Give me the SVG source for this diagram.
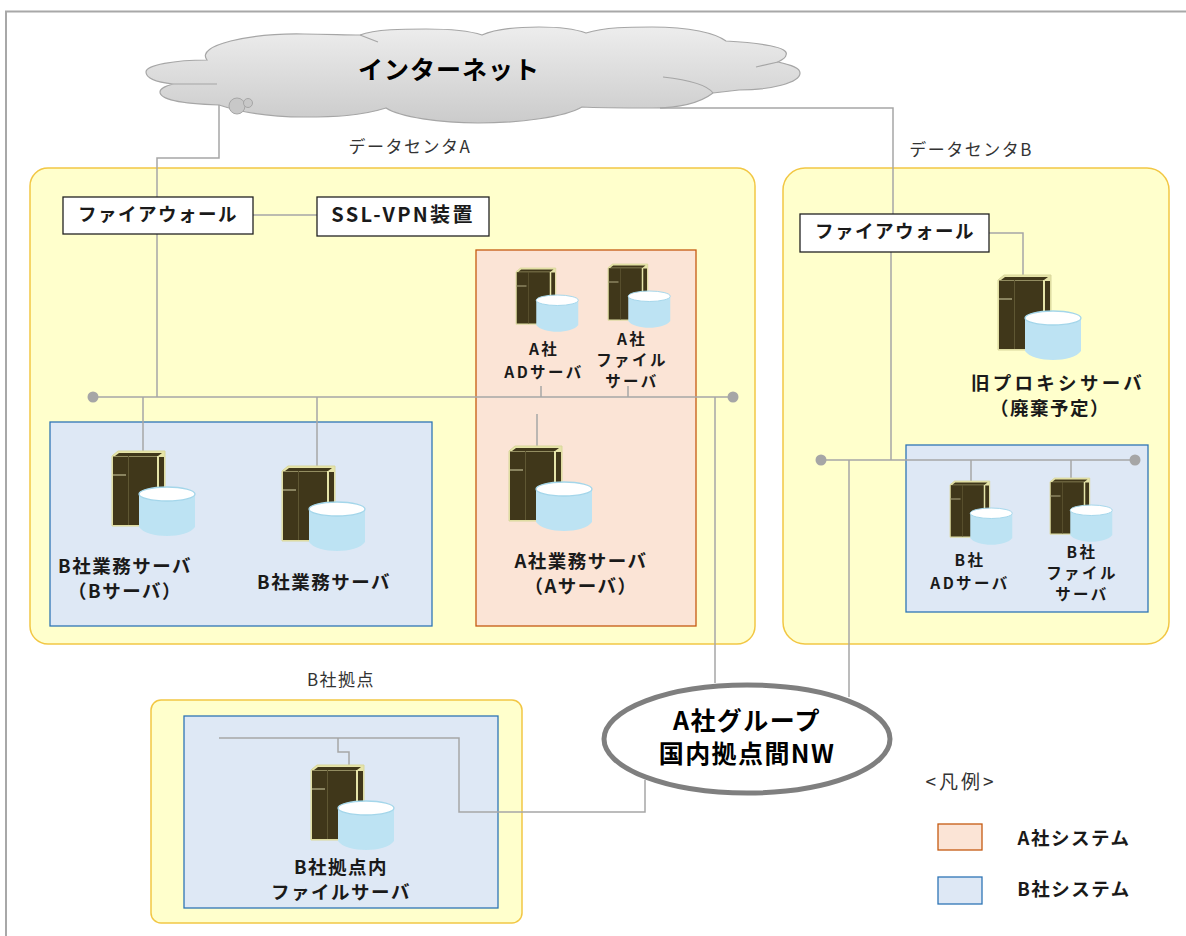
<svg xmlns="http://www.w3.org/2000/svg" width="1186" height="936" viewBox="0 0 1186 936">
<style>
text{font-family:"Noto Sans CJK JP","Noto Sans",sans-serif;fill:#000;text-anchor:middle}
.b{font-weight:700;font-size:18.500px;letter-spacing:1.500px;fill:#1a1a1a}
.s{font-weight:700;font-size:15.500px;letter-spacing:2.400px;fill:#1a1a1a}
.n{font-size:17px;letter-spacing:1.500px;fill:#333}
.t{font-size:25px;font-weight:700;letter-spacing:1.400px}
.dc{fill:#ffffcc;stroke:#f2c744;stroke-width:1.5}
.blue{fill:#dee8f5;stroke:#2e75b6;stroke-width:1.3}
.org{fill:#fbe4d6;stroke:#c55a11;stroke-width:1.3}
.fw{fill:#fff;stroke:#222;stroke-width:1.3}
.ln{fill:none;stroke:#a6a6a6;stroke-width:1.5}
.dot{fill:#a6a6a6}
</style>
<defs>
<linearGradient id="cg" x1="0" y1="0" x2="0" y2="1"><stop offset="0" stop-color="#ededed"/><stop offset="1" stop-color="#cbcbcb"/></linearGradient>
<g id="srv">
<path d="M0 5 L6 0 H53 V68 L47 75 H0Z" fill="#e6e4a8" stroke="#d9d79c"/>
<path d="M3 5 L7 2 H50 L46 5Z" fill="#40371a"/>
<rect x="1" y="5.500" width="44" height="68.500" fill="#40371a"/>
<rect x="47" y="6" width="5" height="60" fill="#40371a"/>
<rect x="16" y="5" width="1" height="69" fill="#5f5733"/>
<rect x="1" y="23" width="13" height="2" fill="#8a8460"/>
<path d="M27 43 V76 C35 88 75 88 83 76 V43Z" fill="#bde3f3"/>
<ellipse cx="55" cy="43" rx="28" ry="7" fill="#fff" stroke="#a4d6ea" stroke-width="1.3"/>
</g>
</defs>
<path d="M6 936V11.500H1186" fill="none" stroke="#a8a8a8" stroke-width="2"/>
<g id="cloud">
<path d="M146 72C146 65 175 60 207 60C195 45 250 33 304 34C325 34 345 35 360 35C375 29 405 29 426 29C450 29 470 31 482 35C497 28 520 27 539 27C560 27 575 29 586 33C605 27 630 27 652 27C690 27 715 33 726 41C760 43 790 47 786 55C786 58 782 60 778 62C792 65 800 68 800 73C800 83 770 90 739 90C730 91 722 92 713 93C700 103 680 108 652 108C630 108 600 108 582 107C565 117 520 123 478 123C440 123 400 117 386 108C360 116 335 117 304 117C270 117 240 112 219 105C185 104 160 100 160 92C160 88 166 86 173 84C155 82 146 78 146 72Z" fill="url(#cg)" stroke="#a6a6a6" stroke-width="1.200"/>
<path d="M360 35L378 42M173 84H217M663 77C690 80 708 86 713 93M756 67L778 62" fill="none" stroke="#a6a6a6" stroke-width="1.200"/>
<circle cx="237" cy="106" r="8" fill="#c8c8c8" stroke="#a6a6a6"/><circle cx="248" cy="103" r="4.500" fill="#c8c8c8" stroke="#a6a6a6"/>
<text class="t" x="449" y="79" style="letter-spacing:1px">インターネット</text>
</g>
<g id="dc-a"><rect class="dc" x="30" y="168" width="725" height="476" rx="18"/><text class="n" x="410" y="153">データセンタA</text></g>
<g id="dc-b"><rect class="dc" x="783" y="168" width="386" height="476" rx="22"/><text class="n" x="971" y="156">データセンタB</text></g>
<g id="site-b"><rect class="dc" x="151" y="700" width="371" height="223" rx="10"/><text class="n" x="341" y="686">B社拠点</text></g>
<g id="sys-b1"><rect class="blue" x="50" y="422" width="382" height="204"/></g>
<g id="sys-a"><rect class="org" x="476" y="250" width="220" height="376"/></g>
<g id="sys-b2"><rect class="blue" x="906" y="445" width="242" height="167"/></g>
<g id="sys-b3"><rect class="blue" x="184" y="716" width="314" height="192"/></g>
<g id="connectors">
<path class="ln" d="M219 105V158H157V397M253 215H317M660 108H893V214M93 397H733M143 397V451M317 397V466M541 386V397M628 386V397M537 414V446M715 397V683M989 233H1023V275M891 252V460M821 460H1135M971 460V481M1071 460V478M849 460V697M219 738H459V812H645V780M338 738V752H349V765"/>
<circle class="dot" cx="93" cy="397" r="5.500"/><circle class="dot" cx="733" cy="397" r="5.500"/><circle class="dot" cx="821" cy="460" r="5.500"/><circle class="dot" cx="1135" cy="460" r="5.500"/>
</g>
<g id="fw-a"><rect class="fw" x="63" y="197" width="190" height="37"/><text class="b" x="158" y="221">ファイアウォール</text></g>
<g id="ssl-vpn"><rect class="fw" x="317" y="197" width="172" height="39"/><text class="b" x="403" y="222" style="font-size:20px;letter-spacing:2.300px">SSL-VPN装置</text></g>
<g id="fw-b"><rect class="fw" x="800" y="214" width="189" height="38"/><text class="b" x="895" y="238">ファイアウォール</text></g>
<g id="srv-b1"><use href="#srv" x="112" y="451"/><text class="b" x="125" y="573">B社業務サーバ</text><text class="b" x="125" y="598">（Bサーバ）</text></g>
<g id="srv-b2"><use href="#srv" x="282" y="466"/><text class="b" x="324" y="589">B社業務サーバ</text></g>
<g id="srv-a"><use href="#srv" x="509" y="446"/><text class="b" x="581" y="568">A社業務サーバ</text><text class="b" x="581" y="593">（Aサーバ）</text></g>
<g id="srv-a-ad"><use href="#srv" transform="translate(516 268) scale(.75)"/><text class="s" x="544" y="355">A社</text><text class="s" x="544" y="378">ADサーバ</text></g>
<g id="srv-a-file"><use href="#srv" transform="translate(608 264) scale(.75)"/><text class="s" x="632" y="345">A社</text><text class="s" x="632" y="366">ファイル</text><text class="s" x="632" y="387">サーバ</text></g>
<g id="srv-old"><use href="#srv" x="998" y="275"/><text class="b" x="1058" y="390" style="letter-spacing:3.300px">旧プロキシサーバ</text><text class="b" x="1050" y="415">（廃棄予定）</text></g>
<g id="srv-b-ad"><use href="#srv" transform="translate(950 481) scale(.75)"/><text class="s" x="970" y="566">B社</text><text class="s" x="970" y="589">ADサーバ</text></g>
<g id="srv-b-file"><use href="#srv" transform="translate(1050 478) scale(.75)"/><text class="s" x="1082" y="558">B社</text><text class="s" x="1082" y="579">ファイル</text><text class="s" x="1082" y="600">サーバ</text></g>
<g id="srv-b-site"><use href="#srv" x="311" y="765"/><text class="b" x="341" y="874">B社拠点内</text><text class="b" x="341" y="899">ファイルサーバ</text></g>
<g id="nw"><ellipse cx="747" cy="739" rx="143" ry="54" fill="#fff" stroke="#7f7f7f" stroke-width="5"/><text class="t" x="747" y="730">A社グループ</text><text class="t" x="747" y="763">国内拠点間NW</text></g>
<g id="legend"><text class="n" x="961" y="789" style="font-size:19px;letter-spacing:3px">&lt;凡例&gt;</text>
<rect class="org" x="938" y="824" width="44" height="26"/><text class="b" x="1074" y="845">A社システム</text>
<rect class="blue" x="938" y="877" width="44" height="27"/><text class="b" x="1074" y="896">B社システム</text></g>
</svg>
